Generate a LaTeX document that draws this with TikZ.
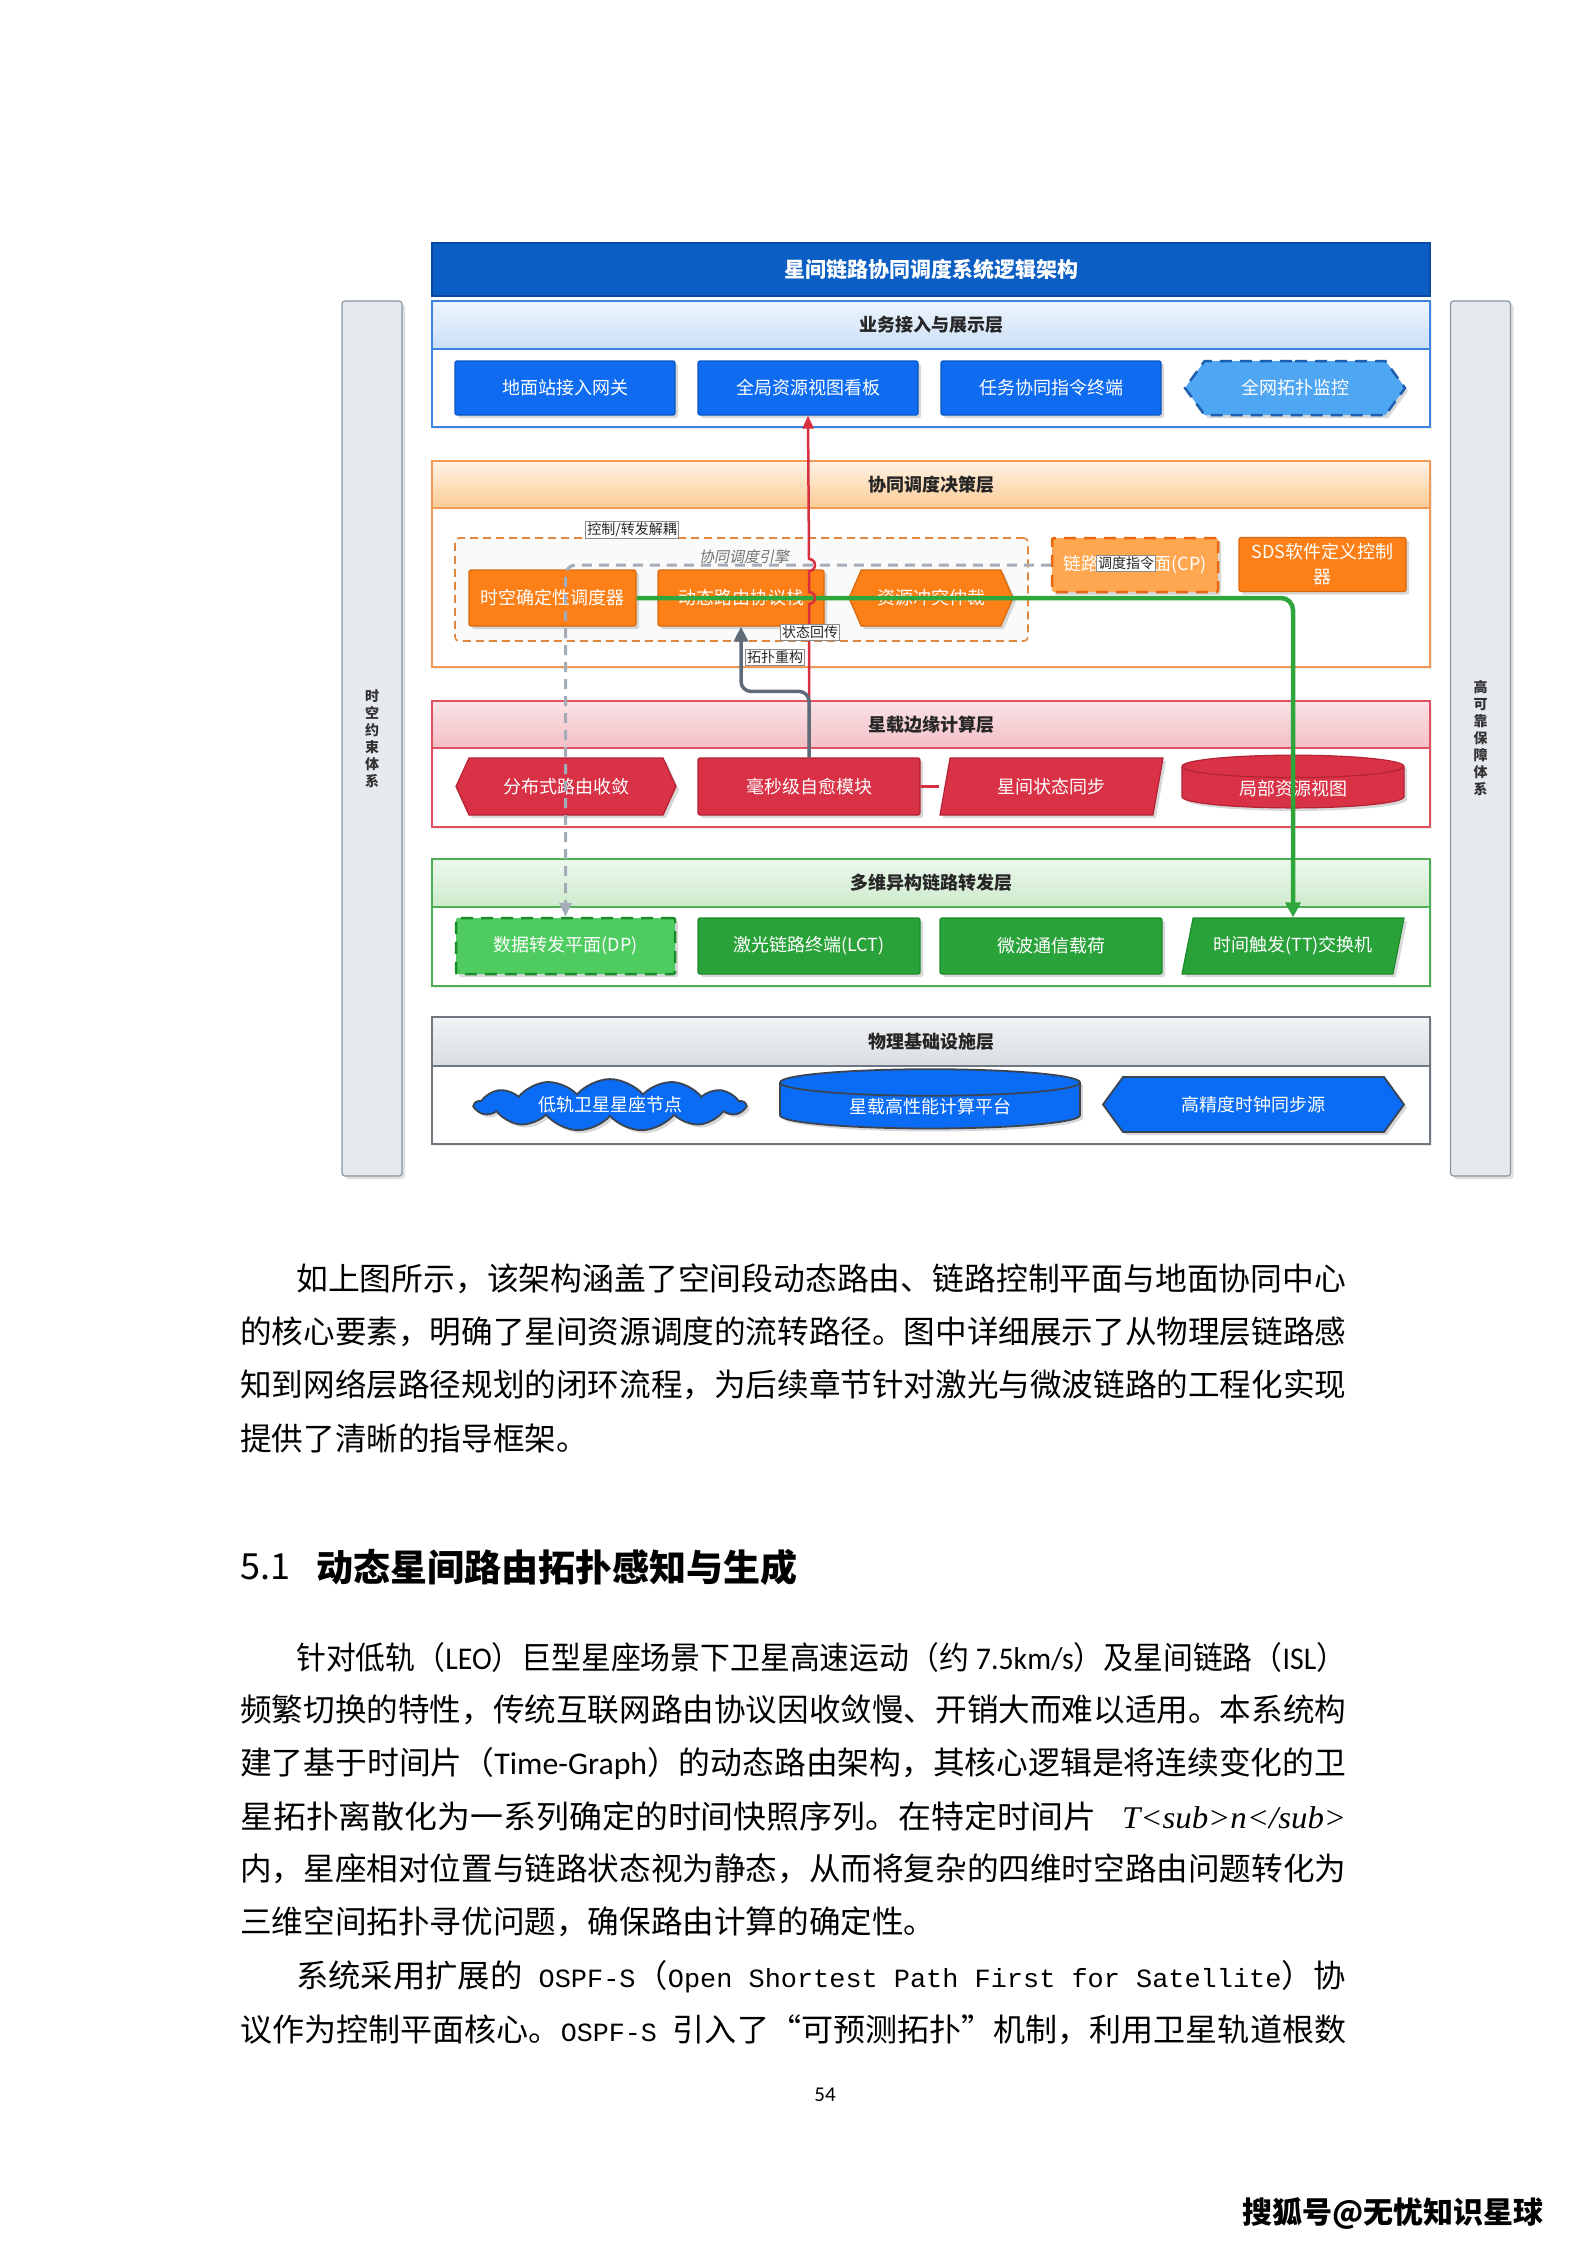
\documentclass[tikz,border=0pt]{standalone}
\usepackage{fontspec}
\setmainfont{Noto Sans CJK SC}
\newfontfamily\latfont{Carlito}
\newfontfamily\monofont{Liberation Mono}
\newfontfamily\seriffont{Liberation Serif}
\newfontfamily\slantfont[FakeSlant=0.2]{Noto Sans CJK SC}
\usepackage{graphicx}
\usetikzlibrary{arrows.meta, calc, positioning, shapes.geometric, shapes.symbols, shadows}

% Farben
\definecolor{titelB}{HTML}{0A5EC4}
\definecolor{titelBd}{HTML}{0848A0}
\definecolor{LB}{HTML}{3C84E0}\definecolor{AB}{HTML}{EEF5FE}\definecolor{HB}{HTML}{CBDFF7}
\definecolor{LO}{HTML}{F29A55}\definecolor{AO}{HTML}{FFF3E6}\definecolor{HO}{HTML}{FBCB93}
\definecolor{LR}{HTML}{E0505F}\definecolor{AR}{HTML}{FBE3E6}\definecolor{HR}{HTML}{F2BFC6}
\definecolor{LG}{HTML}{4CAF55}\definecolor{AG}{HTML}{ECF8EC}\definecolor{HG}{HTML}{CDEACD}
\definecolor{LS}{HTML}{6F7880}\definecolor{AS}{HTML}{F1F3F5}\definecolor{HS}{HTML}{D9DDE2}
\definecolor{boxB}{HTML}{0F6CF0}\definecolor{boxBd}{HTML}{0A56C2}
\definecolor{topoB}{HTML}{4FA6F2}\definecolor{topoBd}{HTML}{1E5FAF}
\definecolor{boxO}{HTML}{FC7F17}\definecolor{boxOd}{HTML}{D8690F}
\definecolor{cpO}{HTML}{FFA650}\definecolor{cpOd}{HTML}{E8670F}
\definecolor{boxR}{HTML}{D93246}\definecolor{boxRd}{HTML}{B52236}
\definecolor{boxG}{HTML}{2AA23A}\definecolor{boxGd}{HTML}{1D8A2B}
\definecolor{dpG}{HTML}{4FCC60}
\definecolor{boxP}{HTML}{0A6CF4}\definecolor{boxPd}{HTML}{3B4552}
\definecolor{sideF}{HTML}{E6EAEF}\definecolor{sideD}{HTML}{8B96A2}
\definecolor{redC}{HTML}{D8303F}
\definecolor{grnC}{HTML}{2EA63C}
\definecolor{gryC}{HTML}{A4ACBA}
\definecolor{grydC}{HTML}{5F6B78}

\newcommand\setfs[1]{\fontsize{#1}{#1}\selectfont}
\newcommand\lat[1]{{\latfont #1}}
\newcommand\mono[1]{{\monofont\setfs{26.3}#1}}
\newsavebox\linebox
\newcommand\fitline[2]{\sbox\linebox{#2}\pgfmathparse{#1/\the\wd\linebox}\edef\fitfac{\pgfmathresult}\scalebox{\fitfac}[1]{\usebox\linebox}}

\tikzset{
  layerbox/.style={draw=#1, line width=1.6pt, fill=white, minimum width=998, inner sep=0,
    drop shadow={opacity=.15, shadow xshift=2pt, shadow yshift=-2pt}},
  layerhead/.style={line width=1.6pt, minimum width=998, inner sep=0,
    font=\bfseries\setfs{18}, text=black!85},
  modbox/.style={minimum height=54, inner sep=2pt, text=white, font=\setfs{18}, line width=1.2pt,
    drop shadow={opacity=.3, shadow xshift=3pt, shadow yshift=-3pt}},
  bluebox/.style={modbox, fill=boxB, draw=boxBd, minimum width=220},
  orangebox/.style={modbox, fill=boxO, draw=boxOd},
  redbox/.style={modbox, fill=boxR, draw=boxRd, minimum height=57},
  greenbox/.style={modbox, fill=boxG, draw=boxGd, minimum width=222, minimum height=56},
  phybox/.style={modbox, fill=boxP, draw=boxPd, line width=1.8pt},
  rect/.style={rectangle, rounded corners=2pt},
  dashbox/.style={line width=2.5pt, dash pattern=on 12pt off 8pt},
  hexa/.style={signal, signal to=east and west, signal pointer angle=#1},
  para/.style={trapezium, trapezium left angle=64, trapezium right angle=116, trapezium stretches body},
  cyl/.style={cylinder, shape border rotate=90, aspect=#1},
  sidebar/.style={rectangle, rounded corners=3pt, fill=sideF, draw=sideD, line width=1.2pt,
    minimum width=60, minimum height=875, align=center, font=\bfseries\fontsize{14}{17}\selectfont,
    text=black!80, drop shadow={opacity=.25, shadow xshift=3pt, shadow yshift=-3pt}},
  lbl/.style={draw=black!45, fill=white, inner sep=1.5pt, font=\setfs{14}, text=black!85, line width=0.6pt},
  redln/.style={draw=redC, line width=2.5pt, -{Triangle[length=13pt,width=11pt]}},
  grnln/.style={draw=grnC, line width=4.5pt, -{Triangle[length=15pt,width=15pt]}},
  gryln/.style={draw=gryC, line width=3pt, dash pattern=on 10pt off 7pt, -{Triangle[length=14pt,width=12pt]}},
  grysolid/.style={draw=grydC, line width=3.5pt, -{Triangle[length=15pt,width=14pt]}},
  bodyline/.style={anchor=west, inner sep=0, font=\setfs{31.6}}
}

\begin{document}
\begin{tikzpicture}[x=1pt, y=-1pt]
  \useasboundingbox (0,0) rectangle (1587,2245);
  \fill[white] (0,0) rectangle (1587,2245);

  % Seitenbalken
  \node[sidebar] (tsys) at (372,738.5) {时\\空\\约\\束\\体\\系};
  \node[sidebar] (rsys) at (1480.5,738.5) {高\\可\\靠\\保\\障\\体\\系};

  % Titel
  \node[fill=titelB, draw=titelBd, line width=1.2pt, minimum width=998, minimum height=53,
        text=white, font=\bfseries\setfs{21}] (title) at (931,269.5) {星间链路协同调度系统逻辑架构};

  % Schichten
  \foreach \nm/\cy/\h/\hh/\cl/\ttl in {acc/364/126/48/B/业务接入与展示层,
                                       dec/564/206/47/O/协同调度决策层,
                                       edg/764/126/47/R/星载边缘计算层,
                                       fwd/922.5/127/48/G/多维异构链路转发层,
                                       phy/1080.5/127/49/S/物理基础设施层} {
    \node[layerbox=L\cl, minimum height=\h] (\nm) at (931,\cy) {};
    \node[layerhead, draw=L\cl, top color=A\cl, bottom color=H\cl, minimum height=\hh,
          anchor=north] (\nm-hd) at (\nm.north) {\ttl};
  }

  % Schicht 1
  \node[bluebox, rect] (gw) at (565,388) {地面站接入网关};
  \node[bluebox, rect] (board) at (808,388) {全局资源视图看板};
  \node[bluebox, rect] (term) at (1051,388) {任务协同指令终端};
  \node[bluebox, hexa=108, fill=topoB, draw=topoBd, dashbox] (topo) at (1295,388) {全网拓扑监控};

  % Schicht 2
  \node[draw=boxOd!80, dash pattern=on 8pt off 5pt, line width=1.6pt, fill=black!2, rounded corners=4pt,
        minimum width=573, minimum height=103] (engine) at (741.5,589.5) {};
  \node[font=\slantfont\setfs{15}, text=black!55] (engtitle) at (744,557) {协同调度引擎};
  \node[lbl] (decouple) at (632,530) {控制/转发解耦};
  \node[orangebox, rect, minimum width=167, minimum height=56] (sched) at (552.5,598) {时空确定性调度器};
  \node[orangebox, rect, minimum width=166, minimum height=56] (proto) at (741,598) {动态路由协议栈};
  \node[orangebox, hexa=133, minimum width=164, minimum height=56] (arb) at (931,598) {资源冲突仲裁};
  \node[orangebox, rect, fill=cpO, draw=cpOd, dashbox, minimum width=166] (cp) at (1135,565) {链路控制平面(CP)};
  \node[orangebox, rect, minimum width=167, align=center, font=\fontsize{18}{25}\selectfont]
        (sds) at (1322.5,564.5) {SDS软件定义控制\\器};

  % Schicht 3
  \node[redbox, hexa=131, minimum width=220] (conv) at (566,786.5) {分布式路由收敛};
  \node[redbox, rect, minimum width=222] (heal) at (809,786.5) {毫秒级自愈模块};
  \node[redbox, para, minimum width=223] (sync) at (1051.5,786.5) {星间状态同步};
  \node[redbox, cyl=0.2, minimum width=222, minimum height=52] (lview) at (1293,788.5) {局部资源视图};

  % Schicht 4
  \node[greenbox, rect, fill=dpG, dashbox, minimum width=219] (dp) at (565.5,946) {数据转发平面(DP)};
  \node[greenbox, rect] (lct) at (809,946) {激光链路终端(LCT)};
  \node[greenbox, rect] (mw) at (1051,946) {微波通信载荷};
  \node[greenbox, para] (tt) at (1293,946) {时间触发(TT)交换机};

  % Schicht 5
  \node[phybox, cloud, cloud puffs=13, cloud puff arc=100, cloud ignores aspect,
        minimum width=270, minimum height=46] (sat) at (610,1105) {低轨卫星星座节点};
  \node[phybox, cyl=0.16, minimum width=300, minimum height=51] (hpc) at (930,1107) {星载高性能计算平台};
  \node[phybox, hexa=108, minimum width=301, minimum height=55] (clk) at (1253.5,1104.5) {高精度时钟同步源};

  % Verbindungen
  \draw[gryln, rounded corners=10pt] (cp.west) -| (dp.north);
  \draw[grnln, rounded corners=12pt] (sched.east) -| (tt.north);
  \draw[redln] (heal.north) -- ($(heal.north |- sched.east)+(0,6)$)
        arc[start angle=90, end angle=-90, radius=6]
        -- ($(heal.north |- cp.west)+(0,6)$)
        arc[start angle=90, end angle=-90, radius=6] -- (board.south);
  \draw[grysolid, rounded corners=10pt] (heal.north) -- ($(heal.north)+(0,-66)$) -| (proto.south);
  \draw[draw=redC, line width=2.5pt] (heal.east) -- (heal.east -| sync.bottom left corner);
  \node[lbl] (cmd) at (1126,563) {调度指令};
  \node[lbl] (stateback) at (810,632) {状态回传};
  \node[lbl] (rebuild) at (775,657) {拓扑重构};

  % Fliesstext
  \node[bodyline] (p1a) at (296,1279) {\fitline{1050}{如上图所示，该架构涵盖了空间段动态路由、链路控制平面与地面协同中心}};
  \node[bodyline] (p1b) at (240,1332) {\fitline{1106}{的核心要素，明确了星间资源调度的流转路径。图中详细展示了从物理层链路感}};
  \node[bodyline] (p1c) at (240,1385) {\fitline{1106}{知到网络层路径规划的闭环流程，为后续章节针对激光与微波链路的工程化实现}};
  \node[bodyline] (p1d) at (240,1438) {提供了清晰的指导框架。};

  \node[anchor=west, inner sep=0, font=\setfs{36}] (secno) at (240,1567) {5.1};
  \node[anchor=west, inner sep=0, font=\bfseries\setfs{37}] (sectitle) at (316,1567) {动态星间路由拓扑感知与生成};

  \node[bodyline] (p2a) at (296,1657) {\fitline{1050}{针对低轨（\lat{LEO}）巨型星座场景下卫星高速运动（约\lat{ 7.5km/s}）及星间链路（\lat{ISL}）}};
  \node[bodyline] (p2b) at (240,1710) {\fitline{1106}{频繁切换的特性，传统互联网路由协议因收敛慢、开销大而难以适用。本系统构}};
  \node[bodyline] (p2c) at (240,1763) {\fitline{1106}{建了基于时间片（\lat{Time-Graph}）的动态路由架构，其核心逻辑是将连续变化的卫}};
  \node[bodyline] (p2d) at (240,1816) {\fitline{1106}{星拓扑离散化为一系列确定的时间快照序列。在特定时间片\hspace{25pt}{\seriffont\itshape T<sub>n</sub>}}};
  \node[bodyline] (p2e) at (240,1869) {\fitline{1106}{内，星座相对位置与链路状态视为静态，从而将复杂的四维时空路由问题转化为}};
  \node[bodyline] (p2f) at (240,1922) {三维空间拓扑寻优问题，确保路由计算的确定性。};

  \node[bodyline] (p3a) at (296,1977) {\fitline{1050}{系统采用扩展的\mono{ OSPF-S}（\mono{Open Shortest Path First for Satellite}）协}};
  \node[bodyline] (p3b) at (240,2030) {\fitline{1106}{议作为控制平面核心。\mono{OSPF-S }引入了“可预测拓扑”机制，利用卫星轨道根数}};

  \node[font=\latfont\setfs{21}] (pgno) at (825,2095) {54};
  \node[font=\bfseries\setfs{30}] (footer) at (1393,2213) {搜狐号@无忧知识星球};
\end{tikzpicture}
\end{document}
